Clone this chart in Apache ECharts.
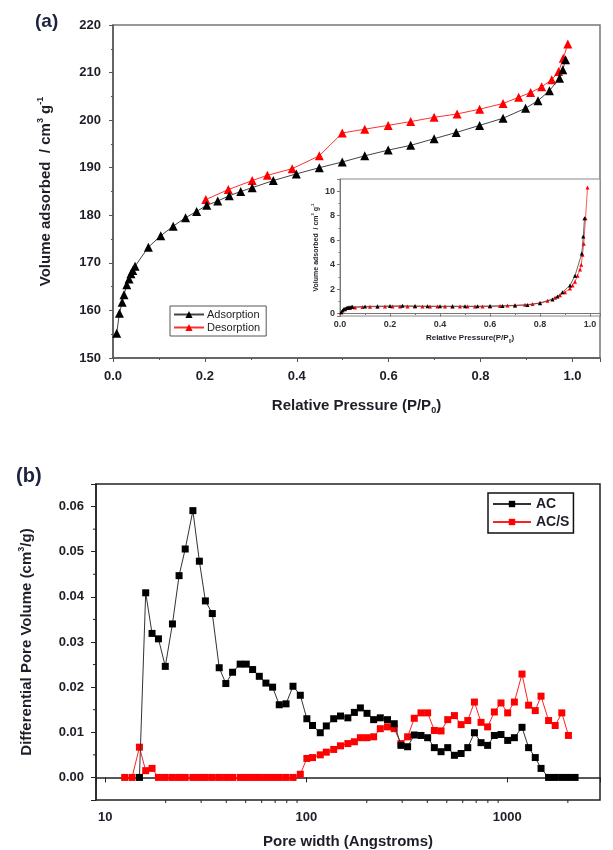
<!DOCTYPE html>
<html>
<head>
<meta charset="utf-8">
<script src="https://cdn.jsdelivr.net/npm/echarts@6/dist/echarts.min.js"></script>
<style>
  html, body { margin: 0; padding: 0; background: #fff; }
  #chart { width: 613px; height: 850px; }
</style>
</head>
<body>
<div id="chart"></div>
<script>
// ---- (a) N2 isotherm: adsorption branch ----
const adsP = [0.008, 0.014, 0.020, 0.024, 0.030, 0.035, 0.039, 0.043, 0.048, 0.077, 0.104, 0.131, 0.158, 0.182,
  0.204, 0.228, 0.253, 0.278, 0.303, 0.349, 0.399, 0.449, 0.499, 0.548, 0.599, 0.648, 0.699, 0.747, 0.798,
  0.849, 0.898, 0.925, 0.950, 0.972, 0.979, 0.985];
const adsV = [155.2, 159.4, 161.7, 163.3, 165.4, 166.6, 167.7, 168.4, 169.3, 173.3, 175.7, 177.7, 179.5, 180.8,
  182.1, 183.0, 184.1, 185.0, 185.8, 187.3, 188.7, 190.0, 191.2, 192.5, 193.7, 194.7, 196.1, 197.4, 198.9,
  200.4, 202.5, 204.1, 206.2, 208.8, 210.6, 212.7];

// ---- (a) desorption branch ----
const desP = [0.990, 0.980, 0.970, 0.955, 0.933, 0.909, 0.883, 0.849, 0.798, 0.749, 0.699, 0.648, 0.599,
  0.548, 0.499, 0.449, 0.390, 0.336, 0.303, 0.251, 0.202];
const desV = [216.0, 213.0, 210.2, 208.5, 207.0, 205.8, 204.8, 203.5, 202.3, 201.3, 200.6, 199.7, 198.9,
  198.1, 197.3, 192.5, 189.8, 188.4, 187.3, 185.4, 183.3];

// ---- (a) small plot: full-range isotherm ----
const smallAdsP = [0.005, 0.010, 0.015, 0.020, 0.025, 0.030, 0.035, 0.040, 0.045, 0.050, 0.10, 0.15, 0.20,
  0.25, 0.30, 0.35, 0.40, 0.45, 0.50, 0.55, 0.60, 0.65, 0.70, 0.75, 0.80, 0.85, 0.87, 0.89, 0.92, 0.94,
  0.967, 0.973, 0.978];
const smallAdsV = [0.10, 0.25, 0.35, 0.40, 0.45, 0.48, 0.50, 0.52, 0.53, 0.55, 0.58, 0.60, 0.62, 0.63,
  0.62, 0.60, 0.60, 0.60, 0.60, 0.60, 0.62, 0.62, 0.65, 0.70, 0.85, 1.15, 1.40, 1.75, 2.30, 3.10,
  4.90, 6.30, 7.80];
const smallDesP = [0.990, 0.982, 0.975, 0.970, 0.965, 0.960, 0.950, 0.940, 0.930, 0.920, 0.900, 0.880,
  0.860, 0.830, 0.800, 0.770, 0.740, 0.700, 0.670, 0.640, 0.600, 0.570, 0.540, 0.510, 0.480, 0.450,
  0.420, 0.390, 0.360, 0.330, 0.300, 0.270, 0.240, 0.210, 0.180, 0.150, 0.120, 0.090, 0.060, 0.040,
  0.020, 0.005];
const smallDesV = [10.30, 7.80, 5.70, 4.80, 4.00, 3.60, 3.10, 2.60, 2.30, 2.05, 1.75, 1.50,
  1.30, 1.05, 0.88, 0.78, 0.72, 0.68, 0.65, 0.62, 0.58, 0.57, 0.57, 0.57, 0.57, 0.57,
  0.57, 0.58, 0.58, 0.58, 0.58, 0.58, 0.58, 0.58, 0.57, 0.56, 0.55, 0.53, 0.50, 0.45,
  0.35, 0.10];

// ---- (b) pore size distribution: AC ----
const poreAC = [14.8, 15.9, 17.1, 18.4, 19.9, 21.6, 23.3, 25.0, 27.3, 29.4, 31.5, 34.1, 36.9, 39.8, 43.0,
  46.9, 50.3, 54.1, 58.4, 63.0, 68.0, 73.4, 79.3, 85.9, 93.4, 100.7, 107.4, 117.4, 125.8, 136.9,
  148, 161, 173.5, 185.8, 200.5, 216.3, 233.5, 253.6, 273.9, 295.8, 319.2, 344.5, 372.0, 401.5, 433.6,
  468.1, 505.3, 545.5, 589, 635.6, 686, 740, 798, 862, 930, 1004, 1084, 1183, 1276, 1377,
  1471, 1604, 1730, 1866, 2013, 2172];
const volAC = [0.0000, 0.0409, 0.0319, 0.0307, 0.0246, 0.0340, 0.0447, 0.0506, 0.0591, 0.0479, 0.0391, 0.0363, 0.0243, 0.0208, 0.0233,
  0.0251, 0.0251, 0.0239, 0.0224, 0.0209, 0.0200, 0.0161, 0.0163, 0.0202, 0.0182, 0.0130, 0.0115, 0.0099, 0.0114, 0.0130,
  0.0136, 0.0132, 0.0144, 0.0154, 0.0142, 0.0128, 0.0132, 0.0128, 0.0119, 0.0071, 0.0068, 0.0094, 0.0093, 0.0088, 0.0066,
  0.0057, 0.0066, 0.0049, 0.0053, 0.0066, 0.0099, 0.0077, 0.0071, 0.0093, 0.0095, 0.0082, 0.0088, 0.0111, 0.0066, 0.0044,
  0.0020, 0.0000, 0.0000, 0.0000, 0.0000, 0.0000];

// ---- (b) pore size distribution: AC/S ----
const poreACS = [12.5, 13.6, 14.8, 15.9, 17.1, 18.4, 19.9, 21.6, 23.3, 25.0, 27.3, 29.4, 31.5, 34.1, 36.9,
  39.8, 43.0, 46.9, 50.3, 54.1, 58.4, 63.0, 68.0, 73.4, 79.3, 85.9, 93.4, 100.7, 107.4, 117.4,
  125.8, 136.9, 148, 161, 173.5, 185.8, 200.5, 216.3, 233.5, 253.6, 273.9, 295.8, 319.2, 344.5, 372.0,
  401.5, 433.6, 468.1, 505.3, 545.5, 589, 635.6, 686, 740, 798, 862, 930, 1004, 1084, 1183,
  1276, 1377, 1471, 1604, 1730, 1866, 2013];
const volACS = [0.0000, 0.0000, 0.0067, 0.0015, 0.0020, 0.0000, 0.0000, 0.0000, 0.0000, 0.0000, 0.0000, 0.0000, 0.0000, 0.0000, 0.0000,
  0.0000, 0.0000, 0.0000, 0.0000, 0.0000, 0.0000, 0.0000, 0.0000, 0.0000, 0.0000, 0.0000, 0.0007, 0.0042, 0.0044, 0.0050,
  0.0056, 0.0062, 0.0070, 0.0075, 0.0079, 0.0088, 0.0088, 0.0090, 0.0108, 0.0112, 0.0108, 0.0075, 0.0090, 0.0131, 0.0143,
  0.0143, 0.0104, 0.0103, 0.0128, 0.0137, 0.0117, 0.0126, 0.0167, 0.0122, 0.0112, 0.0145, 0.0165, 0.0143, 0.0167, 0.0229,
  0.0160, 0.0148, 0.0180, 0.0126, 0.0115, 0.0143, 0.0093];

// minor tick positions on the (b) axes
const poreMinorTicks = [20, 30, 40, 50, 60, 70, 80, 90, 200, 300, 400, 500, 600, 700, 800, 900, 2000];
const volMinorTicks = [0.005, 0.015, 0.025, 0.035, 0.045, 0.055];

const FONT = '"Liberation Sans", Arial, Helvetica, sans-serif';
const TXT = '#1e1e28';

const zip = (xs, ys) => xs.map((x, i) => [x, ys[i]]);

const bold = (size) => ({ fontFamily: FONT, fontWeight: 'bold', fontSize: size, color: TXT });

const VOL_MIN = -0.005, VOL_MAX = 0.065;
const PORE_MIN = 9, PORE_MAX = 2890;

const chart = echarts.init(document.getElementById('chart'), null, { renderer: 'canvas' });

const richTitle = (size) => ({
  t: { fontFamily: FONT, fontWeight: 'bold', fontSize: size, color: TXT, lineHeight: size + 4 },
  sup: { fontFamily: FONT, fontWeight: 'bold', fontSize: Math.round(size * 0.6), color: TXT,
         lineHeight: Math.round(size * 0.6), verticalAlign: 'top' },
  sub: { fontFamily: FONT, fontWeight: 'bold', fontSize: Math.round(size * 0.6), color: TXT,
         lineHeight: Math.round(size * 0.6), verticalAlign: 'bottom' }
});

function tickRenderer(dir) {
  return function (params, api) {
    const p = api.coord([api.value(0), api.value(1)]);
    const shape = dir === 'x'
      ? { x1: p[0], y1: p[1], x2: p[0], y2: p[1] + 3 }
      : { x1: p[0], y1: p[1], x2: p[0] - 3, y2: p[1] };
    return { type: 'line', shape: shape, style: { stroke: '#222', lineWidth: 1 } };
  };
}

const option = {
  backgroundColor: '#fff',
  animation: false,
  grid: [
    { left: 113, top: 25, width: 487, height: 333, show: true, borderColor: '#777', borderWidth: 1.5,
      backgroundColor: 'transparent' },
    { left: 340, top: 179, width: 260, height: 137, show: true, borderColor: '#888', borderWidth: 1,
      backgroundColor: '#fff' },
    { left: 96, top: 484, width: 504, height: 316, show: true, borderColor: '#222', borderWidth: 1.5,
      backgroundColor: 'transparent' }
  ],
  xAxis: [
    {
      gridIndex: 0, type: 'value', min: 0, max: 1.06, interval: 0.2,
      axisLine: { lineStyle: { color: '#555', width: 1.5 } },
      axisTick: { length: 4, lineStyle: { color: '#555' } },
      minorTick: { show: true, splitNumber: 2, length: 2, lineStyle: { color: '#555' } },
      splitLine: { show: false },
      axisLabel: Object.assign(bold(13), { margin: 12,
        formatter: v => (Math.abs(v * 5 - Math.round(v * 5)) < 1e-6 ? v.toFixed(1) : '') }),
      name: '{t|Relative Pressure (P/P}{sub|0}{t|)}',
      nameLocation: 'middle', nameGap: 38,
      nameTextStyle: { rich: richTitle(15) }
    },
    {
      gridIndex: 1, type: 'value', min: 0, max: 1.04, interval: 0.2,
      axisLine: { lineStyle: { color: '#777', width: 1 } },
      axisTick: { length: 3, lineStyle: { color: '#777' } },
      minorTick: { show: true, splitNumber: 2, length: 1.5, lineStyle: { color: '#777' } },
      splitLine: { show: false },
      axisLabel: Object.assign(bold(9), { margin: 4, color: '#333',
        formatter: v => (Math.abs(v * 5 - Math.round(v * 5)) < 1e-6 ? v.toFixed(1) : '') }),
      name: '{t|Relative Pressure(P/P}{sub|0}{t|)}',
      nameLocation: 'middle', nameGap: 16,
      nameTextStyle: { rich: richTitle(8) }
    },
    {
      gridIndex: 2, type: 'log', logBase: 10, min: PORE_MIN, max: PORE_MAX,
      axisLine: { lineStyle: { color: '#222', width: 1.5 } },
      axisTick: { length: 5, lineStyle: { color: '#222' } },
      splitLine: { show: false },
      axisLabel: Object.assign(bold(13), { margin: 11,
        formatter: v => {
          const e = Math.log10(v), r = Math.round(e);
          return Math.abs(e - r) < 1e-6 && r >= 1 ? String(Math.pow(10, r)) : '';
        } }),
      name: 'Pore width (Angstroms)',
      nameLocation: 'middle', nameGap: 34,
      nameTextStyle: bold(15)
    }
  ],
  yAxis: [
    {
      gridIndex: 0, type: 'value', min: 150, max: 220, interval: 10,
      axisLine: { lineStyle: { color: '#555', width: 1.5 } },
      axisTick: { length: 4, lineStyle: { color: '#555' } },
      minorTick: { show: true, splitNumber: 2, length: 2, lineStyle: { color: '#555' } },
      splitLine: { show: false },
      axisLabel: Object.assign(bold(13), { margin: 12 }),
      name: '{t|Volume adsorbed  / cm}{sup|3}{t| g}{sup|-1}',
      nameLocation: 'middle', nameGap: 58, nameRotate: 90,
      nameTextStyle: { rich: richTitle(15) }
    },
    {
      gridIndex: 1, type: 'value', min: -0.2, max: 11, splitNumber: 5,
      axisLine: { lineStyle: { color: '#777', width: 1 } },
      axisTick: { length: 3, lineStyle: { color: '#777' } },
      minorTick: { show: true, splitNumber: 2, length: 1.5, lineStyle: { color: '#777' } },
      splitLine: { show: false },
      axisLabel: Object.assign(bold(9), { margin: 5, color: '#333',
        formatter: v => (Math.abs(v / 2 - Math.round(v / 2)) < 1e-6 && v >= 0 && v <= 10 ? String(Math.round(v)) : '') }),
      name: '{t|Volume adsorbed  / cm}{sup|3}{t| g}{sup|-1}',
      nameLocation: 'middle', nameGap: 18, nameRotate: 90,
      nameTextStyle: { rich: richTitle(7) }
    },
    {
      gridIndex: 2, type: 'value', min: VOL_MIN, max: VOL_MAX, splitNumber: 7,
      axisLine: { lineStyle: { color: '#222', width: 1.5 } },
      axisTick: { length: 5, lineStyle: { color: '#222' } },
      splitLine: { show: false },
      axisLabel: Object.assign(bold(13), { margin: 12,
        formatter: v => (Math.abs(v * 100 - Math.round(v * 100)) < 1e-6 ? v.toFixed(2) : '') }),
      name: '{t|Differential Pore Volume (cm}{sup|3}{t|/g)}',
      nameLocation: 'middle', nameGap: 60, nameRotate: 90,
      nameTextStyle: { rich: richTitle(15) }
    }
  ],
  legend: [
    {
      data: ['Adsorption', 'Desorption'], orient: 'vertical', left: 170, top: 306,
      itemWidth: 30, itemHeight: 9, itemGap: 2, padding: [3, 6, 3, 3],
      borderColor: '#555', borderWidth: 1, backgroundColor: '#fff', selectedMode: false,
      textStyle: { fontFamily: FONT, fontSize: 11, color: '#222', padding: [0, 0, 0, -2] }
    },
    {
      data: ['AC', 'AC/S'], orient: 'vertical', left: 488, top: 493,
      itemWidth: 38, itemHeight: 8, itemGap: 4, padding: [4, 4, 4, 4],
      borderColor: '#111', borderWidth: 1.5, backgroundColor: '#fff', selectedMode: false,
      textStyle: { fontFamily: FONT, fontSize: 14, fontWeight: 'bold', color: TXT }
    }
  ],
  graphic: [
    { type: 'text', left: 35, top: 12, style: { text: '(a)', font: 'bold 19px ' + FONT, fill: '#1c2340' } },
    { type: 'text', left: 16, top: 466, style: { text: '(b)', font: 'bold 20px ' + FONT, fill: '#1c2340' } }
  ],
  series: [
    {
      name: 'Adsorption', type: 'line', xAxisIndex: 0, yAxisIndex: 0,
      data: zip(adsP, adsV), symbol: 'triangle', symbolSize: 9,
      itemStyle: { color: '#000' }, lineStyle: { color: '#444', width: 1 }, z: 3
    },
    {
      name: 'Desorption', type: 'line', xAxisIndex: 0, yAxisIndex: 0,
      data: zip(desP, desV), symbol: 'triangle', symbolSize: 9,
      itemStyle: { color: '#ff0000' }, lineStyle: { color: '#ff3030', width: 1 }, z: 2
    },
    {
      name: 'full-range adsorption', type: 'line', xAxisIndex: 1, yAxisIndex: 1,
      data: zip(smallAdsP, smallAdsV), symbol: 'triangle', symbolSize: 4,
      itemStyle: { color: '#000' }, lineStyle: { color: '#444', width: 0.8 }, z: 4
    },
    {
      name: 'full-range desorption', type: 'line', xAxisIndex: 1, yAxisIndex: 1,
      data: zip(smallDesP, smallDesV), symbol: 'triangle', symbolSize: 4,
      itemStyle: { color: '#ff0000' }, lineStyle: { color: '#ff3030', width: 0.8 }, z: 3
    },
    {
      name: 'AC/S', type: 'line', xAxisIndex: 2, yAxisIndex: 2,
      data: zip(poreACS, volACS), symbol: 'rect', symbolSize: 7,
      itemStyle: { color: '#ff0000' }, lineStyle: { color: '#ff2020', width: 1 }, z: 2
    },
    {
      name: 'AC', type: 'line', xAxisIndex: 2, yAxisIndex: 2,
      data: zip(poreAC, volAC), symbol: 'rect', symbolSize: 7,
      itemStyle: { color: '#000' }, lineStyle: { color: '#333', width: 1 }, z: 3
    },
    {
      type: 'custom', xAxisIndex: 2, yAxisIndex: 2, silent: true, clip: false,
      data: poreMinorTicks.map(v => [v, VOL_MIN]),
      renderItem: tickRenderer('x')
    },
    {
      type: 'custom', xAxisIndex: 2, yAxisIndex: 2, silent: true, clip: false,
      data: volMinorTicks.map(v => [PORE_MIN, v]),
      renderItem: tickRenderer('y')
    }
  ]
};

chart.setOption(option);
</script>
</body>
</html>
